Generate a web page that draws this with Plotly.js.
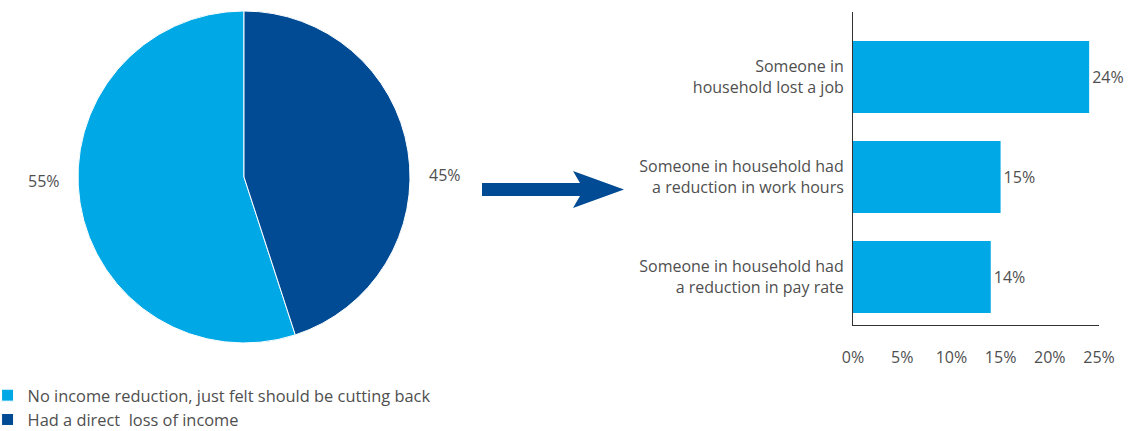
<!DOCTYPE html>
<html>
<head>
<meta charset="utf-8">
<script src="https://cdn.plot.ly/plotly-3.0.1.min.js"></script>
<style>html,body{margin:0;padding:0;background:#fff;}#chart{width:1130px;height:431px;}</style>
</head>
<body>
<div id="chart"></div>
<script>
// Pie data
const pieLabels = ["No income reduction, just felt should be cutting back", "Had a direct  loss of income"];
const pieValues = [55, 45];
const pieColors = ["#00a9e6", "#004b93"];

// Bar data
const barCategories = [
  "Someone in<br>household lost a job",
  "Someone in household had<br>a reduction in work hours",
  "Someone in household had<br>a reduction in pay rate"
];
const barValues = [24, 15, 14];
const xTickVals = [0, 5, 10, 15, 20, 25];
const xTickText = ["0%", "5%", "10%", "15%", "20%", "25%"];

const W = 1130, H = 431;
const px = x => x / W;
const py = y => (H - y) / H;

const FONT = "Open Sans, sans-serif";
const TXT = "#4f4f4f";
const FS = 16;

const pie = {
  type: "pie",
  labels: pieLabels,
  values: pieValues,
  sort: false,
  direction: "clockwise",
  rotation: 162,
  marker: {colors: pieColors, line: {color: "#ffffff", width: 1}},
  textinfo: "none",
  hoverinfo: "label+percent",
  domain: {x: [px(78), px(410)], y: [py(343), py(11)]},
  showlegend: true
};

const bar = {
  type: "bar",
  orientation: "h",
  x: barValues,
  y: barCategories,
  marker: {color: "#00a9e6"},
  text: barValues.map(v => v + "%"),
  textposition: "outside",
  textfont: {family: FONT, size: FS, color: TXT},
  cliponaxis: false,
  showlegend: false,
  xaxis: "x",
  yaxis: "y",
  hoverinfo: "x+y"
};

// percentage labels for the pie, text taken from the data
const pieTotal = pieValues.reduce((a, b) => a + b, 0);
const pieLabelPos = [{x: px(62), y: py(181), xanchor: "right"}, {x: px(427), y: py(175), xanchor: "left"}];
const annotations = pieValues.map((v, i) => ({
  xref: "paper", yref: "paper",
  x: pieLabelPos[i].x, y: pieLabelPos[i].y,
  xanchor: pieLabelPos[i].xanchor, yanchor: "middle",
  text: Math.round(v / pieTotal * 100) + "%",
  showarrow: false,
  font: {family: FONT, size: FS, color: TXT}
}));

// arrow decoration
const arrowPts = [[482,183],[580,183],[573,171],[624,189.5],[573,208],[580,196],[482,196]];
const arrowPath = "M" + arrowPts.map(p => px(p[0]).toFixed(5) + "," + py(p[1]).toFixed(5)).join(" L") + " Z";

const layout = {
  width: W, height: H,
  margin: {l: 0, r: 0, t: 0, b: 0, autoexpand: false},
  paper_bgcolor: "#ffffff",
  plot_bgcolor: "#ffffff",
  font: {family: FONT, size: FS, color: TXT},
  showlegend: true,
  legend: {
    x: -0.011, y: py(378), xanchor: "left", yanchor: "top",
    orientation: "v",
    font: {family: FONT, size: 16.4, color: TXT},
    bgcolor: "rgba(0,0,0,0)",
    tracegroupgap: 0
  },
  bargap: 0.28,
  xaxis: {
    domain: [px(853), px(1099)],
    range: [0, 25],
    tickvals: xTickVals,
    ticktext: xTickText,
    showgrid: false,
    zeroline: false,
    showline: true,
    linecolor: "#333333",
    linewidth: 1,
    ticks: "outside",
    ticklen: 18,
    tickcolor: "rgba(0,0,0,0)",
    tickfont: {family: FONT, size: FS, color: TXT},
    fixedrange: true,
    anchor: "y"
  },
  yaxis: {
    domain: [py(325), py(12)],
    type: "category",
    categoryorder: "array",
    categoryarray: barCategories,
    range: [2.48, -0.65],
    showgrid: false,
    zeroline: false,
    showline: true,
    linecolor: "#333333",
    linewidth: 1,
    ticks: "outside",
    ticklen: 5,
    tickcolor: "rgba(0,0,0,0)",
    tickfont: {family: FONT, size: FS, color: TXT},
    fixedrange: true,
    anchor: "x"
  },
  annotations: annotations,
  shapes: [{
    type: "path", xref: "paper", yref: "paper",
    path: arrowPath,
    fillcolor: "#004b93",
    line: {width: 0}
  }]
};

Plotly.newPlot("chart", [pie, bar], layout, {displayModeBar: false, staticPlot: true});
</script>
</body>
</html>
